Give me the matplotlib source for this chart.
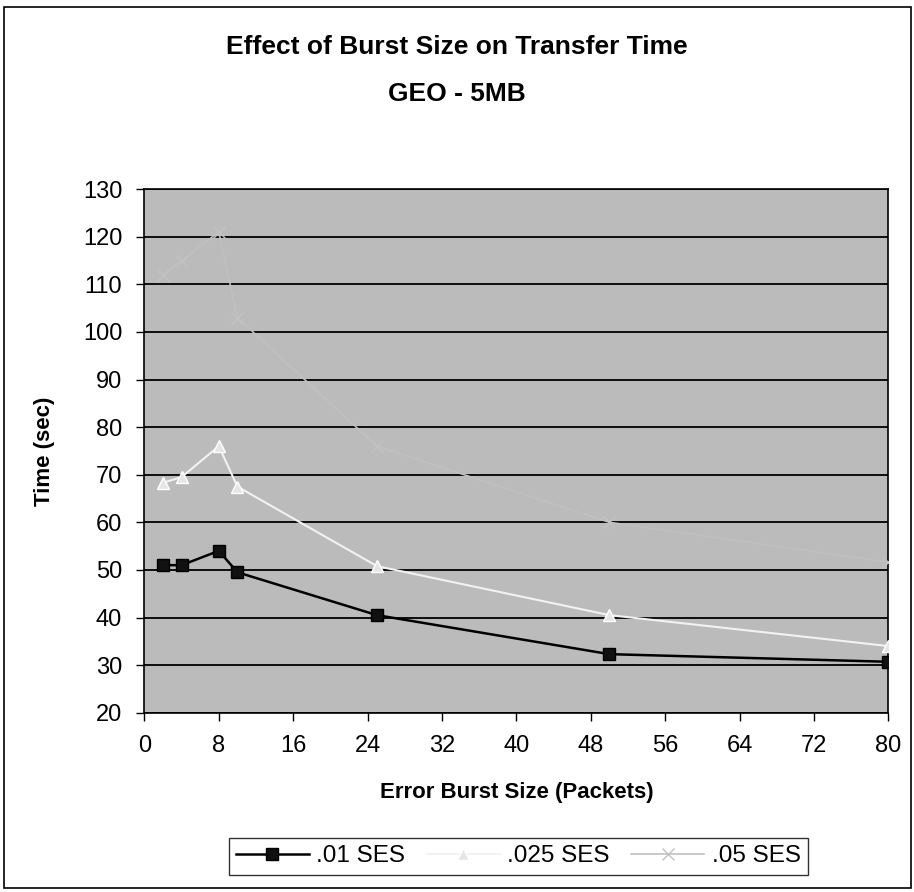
import numpy as np
import matplotlib.pyplot as plt
from matplotlib.patches import Rectangle

# Data
burst = [2, 4, 8, 10, 25, 50, 80]
ses_01 = [51, 51, 54, 49.5, 40.5, 32.3, 30.7]
ses_025 = [68.3, 69.5, 76, 67.5, 50.8, 40.5, 34]
ses_05 = [112, 115, 121, 103, 76, 60, 51.6]

plt.rcParams['font.family'] = ['Liberation Sans', 'DejaVu Sans']

fig = plt.figure(figsize=(9.14, 8.92), dpi=100)
ax = fig.add_axes([0.158, 0.201, 0.814, 0.587])

# plot area background (grey halftone in the scan)
ax.set_facecolor('#bbbbbb')

# .05 SES is barely visible in the scan
ax.plot(burst, ses_05, color='#c0c0c0', lw=1.2, marker='x', ms=8,
        mec='#c2c2c2', label='.05 SES', zorder=3)
ax.plot(burst, ses_025, color='#f2f2f2', lw=1.5, marker='^', ms=8,
        mfc='#e6e6e6', mec='#ffffff', label='.025 SES', zorder=4)
ax.plot(burst, ses_01, color='black', lw=1.8, marker='s', ms=9,
        mfc='#111111', mec='black', label='.01 SES', zorder=5)

ax.set_xlim(0, 80)
ax.set_ylim(20, 130)
ax.set_xticks(np.arange(0, 81, 8))
ax.set_yticks(np.arange(20, 131, 10))
ax.grid(axis='y', color='black', lw=1.3)
ax.set_axisbelow(True)
ax.tick_params(direction='out', length=6, width=1, labelsize=17, pad=10)
for s in ax.spines.values():
    s.set_linewidth(1.2)

ax.set_xlabel('Error Burst Size (Packets)', fontsize=16, fontweight='bold', labelpad=18)
ax.set_ylabel('Time (sec)', fontsize=16, fontweight='bold', labelpad=20)

fig.text(0.5, 0.947, 'Effect of Burst Size on Transfer Time', ha='center', va='center',
         fontsize=19, fontweight='bold')
fig.text(0.5, 0.895, 'GEO - 5MB', ha='center', va='center',
         fontsize=19, fontweight='bold')

handles, labels = ax.get_legend_handles_labels()
order = [2, 1, 0]
leg = fig.legend([handles[i] for i in order], [labels[i] for i in order],
                 loc='center', bbox_to_anchor=(0.567, 0.04), ncol=3, fontsize=17.5,
                 frameon=True, fancybox=False, edgecolor='black',
                 handlelength=3.0, handletextpad=0.3, columnspacing=0.9,
                 borderpad=0.3)
leg.get_frame().set_linewidth(1.0)

# outer chart border
fig.patches.append(Rectangle((0.004, 0.004), 0.993, 0.988, transform=fig.transFigure,
                             fill=False, edgecolor='black', lw=1.2))

fig.savefig('out.png', dpi=100)
